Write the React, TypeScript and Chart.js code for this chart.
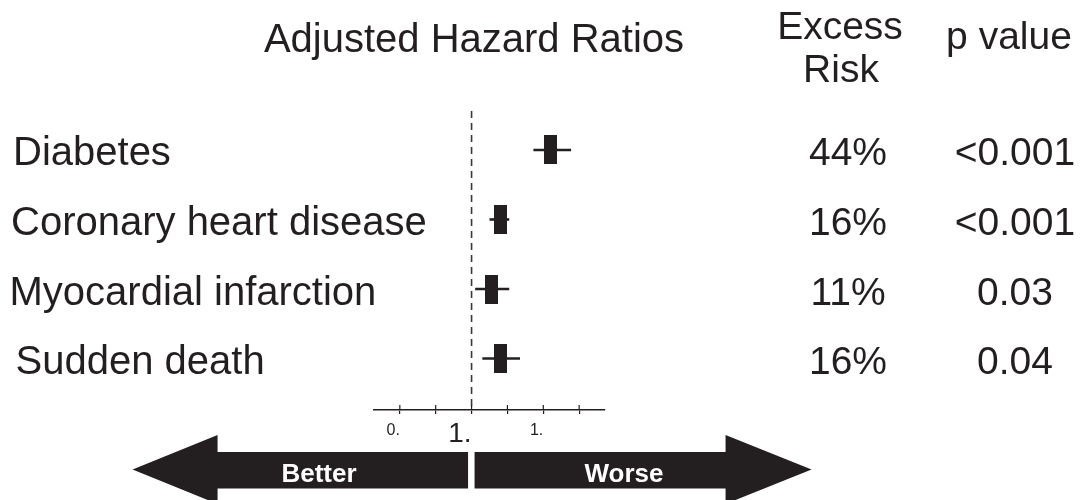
import React, { useEffect, useRef } from "react";
import { Chart, registerables } from "chart.js";

Chart.register(...registerables);

const categories = ["Diabetes", "Coronary heart disease", "Myocardial infarction", "Sudden death"];
const hazardRatios = [1.44, 1.16, 1.11, 1.16];
const ciLow = [1.345, 1.1, 1.02, 1.06];
const ciHigh = [1.555, 1.21, 1.21, 1.27];
const excessRisk = ["44%", "16%", "11%", "16%"];
const pValues = ["<0.001", "<0.001", "0.03", "0.04"];
const tickValues = [0.6, 0.8, 1.0, 1.2, 1.4, 1.6];
const tickLabels = ["0.", "", "1.", "", "1.", ""];
const referenceValue = 1.0;

const INK = "#231f20";
const FONT = '"Liberation Sans", Arial, Helvetica, sans-serif';

export default function App() {
  const canvasRef = useRef<HTMLCanvasElement | null>(null);

  useEffect(() => {
    const canvas = canvasRef.current;
    if (!canvas) return;

    const box = document.createElement("canvas");
    box.width = 13;
    box.height = 29;
    const bctx = box.getContext("2d")!;
    bctx.fillStyle = INK;
    bctx.fillRect(0, 0, 13, 29);

    const whiskerSets = categories.map((c, i) => ({
      type: "line" as const,
      label: c + " CI",
      data: [
        { x: ciLow[i], y: i },
        { x: ciHigh[i], y: i },
      ],
      borderColor: INK,
      borderWidth: 2.6,
      borderCapStyle: "butt" as const,
      pointRadius: 0,
      showLine: true,
      fill: false,
      order: 1,
    }));

    const overlay = {
      id: "forestOverlay",
      beforeDatasetsDraw(chart: any) {
        const { ctx, chartArea, scales } = chart;
        const x = scales.x.getPixelForValue(referenceValue);
        ctx.save();
        ctx.strokeStyle = "#3a3738";
        ctx.lineWidth = 1.6;
        ctx.setLineDash([7, 5]);
        ctx.beginPath();
        ctx.moveTo(x, chartArea.top);
        ctx.lineTo(x, chartArea.bottom);
        ctx.stroke();
        ctx.restore();
      },
      afterDraw(chart: any) {
        const { ctx, chartArea, scales } = chart;
        const xs = scales.x;
        const ys = scales.y;
        ctx.save();
        // upper half of tick marks
        ctx.strokeStyle = INK;
        ctx.lineWidth = 1.2;
        tickValues.forEach((v) => {
          const px = xs.getPixelForValue(v);
          ctx.beginPath();
          ctx.moveTo(px, chartArea.bottom);
          ctx.lineTo(px, chartArea.bottom - 5);
          ctx.stroke();
        });

        ctx.fillStyle = INK;
        ctx.textBaseline = "alphabetic";
        ctx.font = `40px ${FONT}`;
        ctx.textAlign = "center";
        ctx.fillText("Adjusted Hazard Ratios", 474, 52);
        ctx.font = `39px ${FONT}`;
        ctx.fillText("Excess", 840, 39);
        ctx.fillText("Risk", 841, 82);
        ctx.fillText("p value", 1009, 49);

        const labelX = [13, 11, 9.5, 15.5];
        categories.forEach((c, i) => {
          const py = ys.getPixelForValue(i) + 15.5;
          ctx.textAlign = "left";
          ctx.font = `40px ${FONT}`;
          ctx.fillText(c, labelX[i], py);
          ctx.font = `39px ${FONT}`;
          ctx.textAlign = "center";
          ctx.fillText(excessRisk[i], 848, py);
          ctx.fillText(pValues[i], 1015, py);
        });

        // Better / Worse arrows
        const cx = xs.getPixelForValue(referenceValue);
        const bodyTop = 452;
        const bodyBot = 488.5;
        const tipY = 469.5;
        const headTop = 435;
        const headBot = 504;
        ctx.fillStyle = INK;
        ctx.beginPath();
        ctx.moveTo(cx - 339, tipY);
        ctx.lineTo(cx - 254, headTop);
        ctx.lineTo(cx - 254, bodyTop);
        ctx.lineTo(cx - 3.5, bodyTop);
        ctx.lineTo(cx - 3.5, bodyBot);
        ctx.lineTo(cx - 254, bodyBot);
        ctx.lineTo(cx - 254, headBot);
        ctx.closePath();
        ctx.fill();
        ctx.beginPath();
        ctx.moveTo(cx + 340, tipY);
        ctx.lineTo(cx + 254, headTop);
        ctx.lineTo(cx + 254, bodyTop);
        ctx.lineTo(cx + 3, bodyTop);
        ctx.lineTo(cx + 3, bodyBot);
        ctx.lineTo(cx + 254, bodyBot);
        ctx.lineTo(cx + 254, headBot);
        ctx.closePath();
        ctx.fill();

        ctx.fillStyle = "#ffffff";
        ctx.font = `bold 26px ${FONT}`;
        ctx.textAlign = "center";
        ctx.fillText("Better", 319, 482);
        ctx.fillText("Worse", 624, 482);
        ctx.restore();
      },
    };

    const chart = new Chart(canvas, {
      type: "scatter",
      data: {
        datasets: [
          {
            label: "Adjusted hazard ratio",
            data: hazardRatios.map((v, i) => ({ x: v, y: i })),
            pointStyle: box as any,
            pointRadius: 10,
            order: 0,
          } as any,
          ...whiskerSets,
        ],
      },
      plugins: [overlay],
      options: {
        animation: false,
        responsive: false,
        maintainAspectRatio: false,
        layout: { padding: { left: 374, right: 480, top: 111, bottom: 50 } },
        plugins: { legend: { display: false }, tooltip: { enabled: false } },
        scales: {
          x: {
            type: "linear",
            min: 0.456,
            max: 1.744,
            afterBuildTicks: (scale: any) => {
              scale.ticks = tickValues.map((v) => ({ value: v }));
            },
            afterFit: (scale: any) => {
              scale.height = 40;
            },
            border: { display: true, color: INK, width: 1.5 },
            grid: { drawOnChartArea: false, drawTicks: true, tickLength: 4, color: INK, lineWidth: 1.2 },
            ticks: {
              autoSkip: false,
              maxRotation: 0,
              minRotation: 0,
              align: "end",
              padding: 7,
              color: INK,
              callback: (value: any) => {
                const idx = tickValues.findIndex((t) => Math.abs(t - Number(value)) < 1e-6);
                return idx >= 0 ? tickLabels[idx] : "";
              },
              font: (c: any) =>
                c.tick && Math.abs(c.tick.value - referenceValue) < 1e-6
                  ? { family: FONT, size: 28, lineHeight: 27 / 28 }
                  : { family: FONT, size: 16, lineHeight: 1.2 },
            },
          },
          y: {
            type: "linear",
            reverse: true,
            min: -0.56,
            max: 3.74,
            display: false,
          },
        },
      } as any,
    });

    return () => {
      chart.destroy();
    };
  }, []);

  return (
    <div style={{ position: "absolute", left: 0, top: 0, width: 1085, height: 500, background: "#fff" }}>
      <canvas ref={canvasRef} width={1085} height={500} style={{ width: 1085, height: 500, display: "block" }} />
    </div>
  );
}
